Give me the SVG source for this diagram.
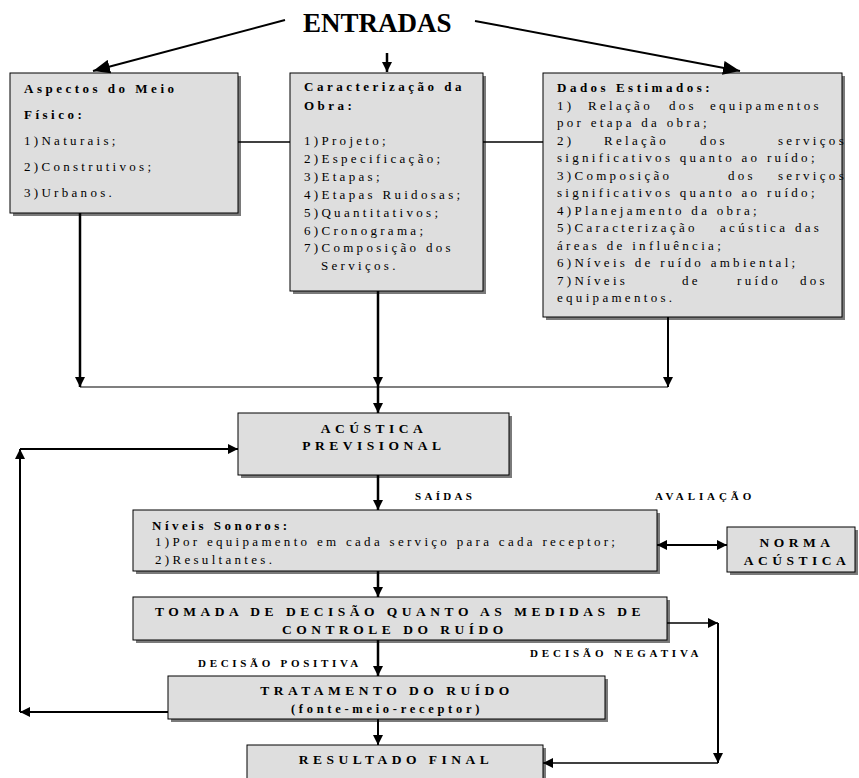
<svg xmlns="http://www.w3.org/2000/svg" width="859" height="778" viewBox="0 0 859 778">
<defs>
<marker id="ah" markerUnits="userSpaceOnUse" markerWidth="11" markerHeight="10" refX="10" refY="5" orient="auto-start-reverse" viewBox="0 0 11 10">
<path d="M0,0 L10,5 L0,10 z" fill="#000"/>
</marker>
<marker id="ahb" markerUnits="userSpaceOnUse" markerWidth="18" markerHeight="14" refX="17" refY="7" orient="auto" viewBox="0 0 18 14">
<path d="M0,0 L17,7 L0,14 z" fill="#000"/>
</marker>
</defs>
<style>
.box{fill:#dedede;stroke:#000;stroke-width:1}
.sh{fill:#7a7a7a}
text{font-family:"Liberation Serif","Times New Roman",serif;fill:#000}
.t{font-size:13px;letter-spacing:3.3px}
.b{font-size:13px;font-weight:bold;letter-spacing:3.5px}
.c{font-size:13.5px;font-weight:bold;letter-spacing:4.5px;text-anchor:middle}
.s{font-size:11px;font-weight:bold}
.ln{fill:none;stroke:#000}
</style>
<text x="303" y="32" style="font-size:27px;font-weight:bold">ENTRADAS</text>

<g id="aspectos">
<rect class="sh" x="13" y="76" width="228" height="140"/>
<rect class="box" x="10" y="73" width="228" height="140"/>
<text class="b" x="24" y="93">Aspectos do Meio</text>
<text class="b" x="24" y="119">Físico:</text>
<text class="t" x="24" y="145">1)Naturais;</text>
<text class="t" x="24" y="171">2)Construtivos;</text>
<text class="t" x="24" y="197">3)Urbanos.</text>
</g>

<g id="caracterizacao">
<rect class="sh" x="293" y="76" width="193" height="218"/>
<rect class="box" x="290" y="73" width="193" height="218"/>
<text class="b" x="304" y="91">Caracterização da</text>
<text class="b" x="304" y="110">Obra:</text>
<text class="t" x="304" y="145">1)Projeto;</text>
<text class="t" x="304" y="163">2)Especificação;</text>
<text class="t" x="304" y="181">3)Etapas;</text>
<text class="t" x="304" y="199">4)Etapas Ruidosas;</text>
<text class="t" x="304" y="217">5)Quantitativos;</text>
<text class="t" x="304" y="235">6)Cronograma;</text>
<text class="t" x="304" y="252">7)Composição dos</text>
<text class="t" x="321" y="270">Serviços.</text>
</g>

<g id="dados">
<rect class="sh" x="546" y="76" width="299" height="244"/>
<rect class="box" x="543" y="73" width="299" height="244"/>
<text class="b" x="557" y="92">Dados Estimados:</text>
<text class="t" y="109.5"><tspan x="557">1)</tspan><tspan x="588">Relação</tspan><tspan x="669">dos</tspan><tspan x="710">equipamentos</tspan></text>
<text class="t" x="557" y="127">por etapa da obra;</text>
<text class="t" y="144.5"><tspan x="557">2)</tspan><tspan x="604">Relação</tspan><tspan x="700">dos</tspan><tspan x="778">serviços</tspan></text>
<text class="t" x="557" y="162">significativos quanto ao ruído;</text>
<text class="t" y="179.5"><tspan x="557">3)Composição</tspan><tspan x="728">dos</tspan><tspan x="778">serviços</tspan></text>
<text class="t" x="557" y="197">significativos quanto ao ruído;</text>
<text class="t" x="557" y="214.5">4)Planejamento da obra;</text>
<text class="t" y="232"><tspan x="557">5)Caracterização</tspan><tspan x="720">acústica</tspan><tspan x="795">das</tspan></text>
<text class="t" x="557" y="249.5">áreas de influência;</text>
<text class="t" x="557" y="267">6)Níveis de ruído ambiental;</text>
<text class="t" y="284.5"><tspan x="557">7)Níveis</tspan><tspan x="682">de</tspan><tspan x="737">ruído</tspan><tspan x="800">dos</tspan></text>
<text class="t" x="557" y="302">equipamentos.</text>
</g>

<g id="acustica">
<rect class="sh" x="241" y="416" width="271" height="62"/>
<rect class="box" x="238" y="413" width="271" height="62"/>
<text class="c" x="374" y="433">ACÚSTICA</text>
<text class="c" x="374" y="450">PREVISIONAL</text>
</g>

<g id="niveis">
<rect class="sh" x="136" y="513" width="524" height="61"/>
<rect class="box" x="133" y="510" width="524" height="61"/>
<text class="b" x="152" y="530">Níveis Sonoros:</text>
<text class="t" x="155" y="546">1)Por equipamento em cada serviço para cada receptor;</text>
<text class="t" x="155" y="564">2)Resultantes.</text>
</g>

<g id="norma">
<rect class="sh" x="730" y="530" width="128" height="45"/>
<rect class="box" x="727" y="527" width="128" height="45"/>
<text class="c" x="797" y="547">NORMA</text>
<text class="c" x="797" y="565">ACÚSTICA</text>
</g>

<g id="tomada">
<rect class="sh" x="136" y="600" width="534" height="43"/>
<rect class="box" x="133" y="597" width="534" height="43"/>
<text class="c" x="400" y="616">TOMADA DE DECISÃO QUANTO AS MEDIDAS DE</text>
<text class="c" x="395" y="634">CONTROLE DO RUÍDO</text>
</g>

<g id="tratamento">
<rect class="sh" x="171" y="679" width="437" height="43"/>
<rect class="box" x="168" y="676" width="437" height="43"/>
<text class="c" x="387" y="695">TRATAMENTO DO RUÍDO</text>
<text class="c" x="387" y="713" style="font-size:12.5px;letter-spacing:3.7px">(fonte-meio-receptor)</text>
</g>

<g id="resultado">
<rect class="sh" x="250" y="748" width="296" height="40"/>
<rect class="box" x="247" y="745" width="296" height="40"/>
<text class="c" x="396" y="764">RESULTADO FINAL</text>
</g>

<g id="labels">
<text class="s" x="415" y="500" style="letter-spacing:3.3px">SAÍDAS</text>
<text class="s" x="655" y="500" style="letter-spacing:3.9px">AVALIAÇÃO</text>
<text class="s" x="198" y="667" style="letter-spacing:3.7px">DECISÃO POSITIVA</text>
<text class="s" x="530" y="657" style="letter-spacing:3.9px">DECISÃO NEGATIVA</text>
</g>

<g id="connectors">
<path class="ln" d="M285,20 L93,71" stroke-width="2" marker-end="url(#ahb)"/>
<path class="ln" d="M475,21 L740,71" stroke-width="2" marker-end="url(#ahb)"/>
<path class="ln" d="M387,53 V72" stroke-width="2.5" marker-end="url(#ah)"/>
<path class="ln" d="M238,142 H290" stroke-width="1.5"/>
<path class="ln" d="M483,142 H543" stroke-width="1.5"/>
<path class="ln" d="M80,213 V387" stroke-width="2.5" marker-end="url(#ah)"/>
<path class="ln" d="M378,291 V387" stroke-width="2.5" marker-end="url(#ah)"/>
<path class="ln" d="M668,317 V387" stroke-width="2" marker-end="url(#ah)"/>
<path class="ln" d="M80,387 H668" stroke-width="1.2"/>
<path class="ln" d="M378,387 V413" stroke-width="2.5" marker-end="url(#ah)"/>
<path class="ln" d="M378,475 V510" stroke-width="2.5" marker-end="url(#ah)"/>
<path class="ln" d="M657,545 H727" stroke-width="2" marker-start="url(#ah)" marker-end="url(#ah)"/>
<path class="ln" d="M378,571 V597" stroke-width="2.5" marker-end="url(#ah)"/>
<path class="ln" d="M378,640 V676" stroke-width="2.5" marker-end="url(#ah)"/>
<path class="ln" d="M378,719 V745" stroke-width="2" marker-end="url(#ah)"/>
<path class="ln" d="M168,712 H20" stroke-width="2" marker-end="url(#ah)"/>
<path class="ln" d="M20,712 V449" stroke-width="2" marker-end="url(#ah)"/>
<path class="ln" d="M20,449 H238" stroke-width="2" marker-end="url(#ah)"/>
<path class="ln" d="M667,623 H718" stroke-width="1.5" marker-end="url(#ah)"/>
<path class="ln" d="M718,623 V763" stroke-width="2" marker-end="url(#ah)"/>
<path class="ln" d="M718,763 H543" stroke-width="1.5" marker-end="url(#ah)"/>
</g>
</svg>
